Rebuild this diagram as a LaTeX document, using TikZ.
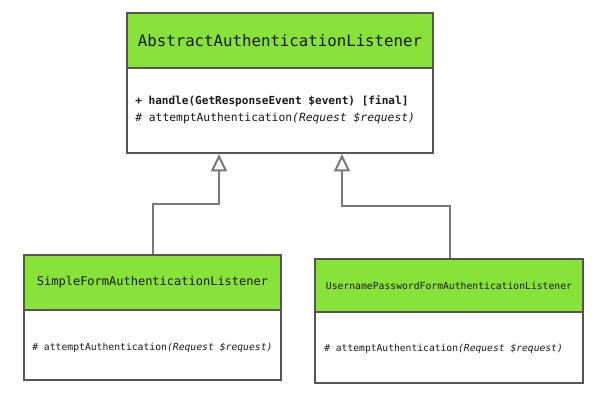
\documentclass[tikz,border=0pt]{standalone}
\usepackage{fontspec}
\setmonofont{DejaVu Sans Mono}
\usetikzlibrary{arrows.meta,positioning}
\definecolor{hdrgreen}{RGB}{137,226,58}
\definecolor{boxline}{RGB}{85,85,85}
\definecolor{conn}{RGB}{120,120,120}
\definecolor{txt}{RGB}{25,25,25}
\begin{document}
\begin{tikzpicture}[x=0.75pt,y=-0.75pt,
  hdr/.style={draw=boxline,line width=1.6pt,fill=hdrgreen,inner sep=0pt,text=txt,font=\ttfamily},
  bodybox/.style={draw=boxline,line width=1.6pt,fill=white,inner sep=0pt},
  meth/.style={anchor=west,inner sep=0pt,text=txt,font=\ttfamily},
  gen/.style={draw=conn,line width=1.5pt,-{Triangle[open,length=13pt,width=12pt,fill=white]}}
]
\useasboundingbox (0,0) rectangle (600,400);
% top class
\node[bodybox,minimum width=229.5pt,minimum height=63.75pt] (topbody) at (280,110.5) {};
\node[hdr,minimum width=229.5pt,minimum height=41.25pt,font=\ttfamily\fontsize{11.8pt}{14pt}\selectfont] (tophdr) at (280,40.5) {AbstractAuthenticationListener};
\node[meth,font=\ttfamily\bfseries\fontsize{8.3pt}{10pt}\selectfont] (m1) at (135,101) {+ handle(GetResponseEvent \$event) [final]};
\node[meth,font=\ttfamily\fontsize{8.5pt}{10pt}\selectfont] (m2) at (135,118) {\itshape\#\upshape{} attemptAuthentication\itshape(Request \$request)};
% left class
\node[bodybox,minimum width=192.75pt,minimum height=52.5pt] (lbody) at (152.5,345) {};
\node[hdr,minimum width=192.75pt,minimum height=41.25pt,font=\ttfamily\fontsize{9pt}{11pt}\selectfont] (lhdr) at (152.5,282.5) {SimpleFormAuthenticationListener};
\node[meth,font=\ttfamily\fontsize{7.3pt}{9pt}\selectfont] (lm) at (32,348) {\itshape\#\upshape{} attemptAuthentication\itshape(Request \$request)};
% right class
\node[bodybox,minimum width=201pt,minimum height=53.25pt] (rbody) at (449,347.5) {};
\node[hdr,minimum width=201pt,minimum height=39.75pt,font=\ttfamily\fontsize{7.3pt}{9pt}\selectfont] (rhdr) at (449,285.5) {UsernamePasswordFormAuthenticationListener};
\node[meth,font=\ttfamily\fontsize{7.25pt}{9pt}\selectfont] (rm) at (324,349) {\itshape\#\upshape{} attemptAuthentication\itshape(Request \$request)};
% generalizations
\coordinate (lbend) at (153,204);
\coordinate (rbend) at (450,206);
\coordinate (ltip) at (219,153);
\coordinate (rtip) at (342,153);
\draw[gen] (lhdr.north -| lbend) -- (lbend) -- (lbend -| ltip) -- (topbody.south -| ltip);
\draw[gen] (rhdr.north -| rbend) -- (rbend) -- (rbend -| rtip) -- (topbody.south -| rtip);
\end{tikzpicture}
\end{document}
